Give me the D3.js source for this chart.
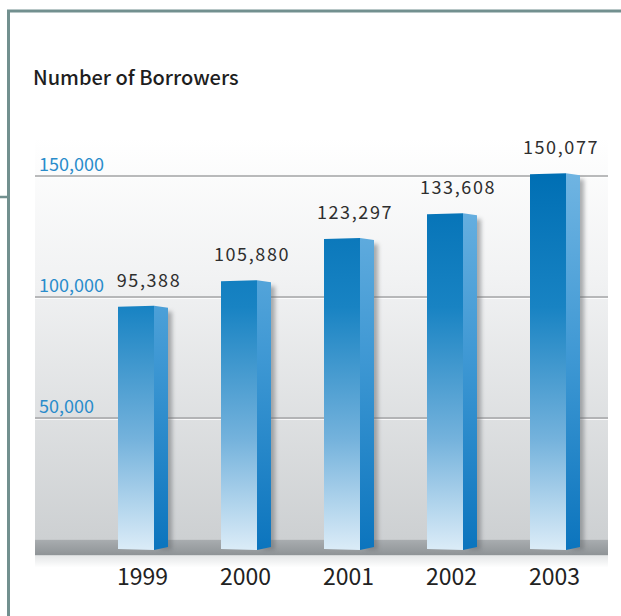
<!DOCTYPE html>
<html>
<head>
<meta charset="utf-8">
<script src="https://cdn.jsdelivr.net/npm/d3@7"></script>
<style>
  html, body { margin: 0; padding: 0; background: #fff; }
  svg { display: block; }
</style>
</head>
<body>
<svg id="chart" width="621" height="616"></svg>
<script>
// Number of borrowers per year
const years = ["1999", "2000", "2001", "2002", "2003"];
const borrowers = [95388, 105880, 123297, 133608, 150077];
const tickValues = [50000, 100000, 150000];
const title = "Number of Borrowers";

const W = 621, H = 616;
const svg = d3.select("#chart");
const defs = svg.append("defs");
const fontFam = "'Noto Sans CJK KR', 'Noto Sans', sans-serif";

// Scales
const x = d3.scalePoint().domain(years).range([142, 554]);
const y = d3.scaleLinear().domain([0, 150000]).range([538.5, 175.5]);
const fmt = d3.format(",");

const plotL = 35, plotR = 608, plotT = 138;
const floorTop = y(0) + 1, floorBot = floorTop + 16;

// Gradients
const bgGrad = defs.append("linearGradient").attr("id", "bg").attr("x1", 0).attr("y1", 0).attr("x2", 0).attr("y2", 1);
bgGrad.append("stop").attr("offset", 0).attr("stop-color", "#ffffff");
bgGrad.append("stop").attr("offset", 0.35).attr("stop-color", "#f1f2f3");
bgGrad.append("stop").attr("offset", 1).attr("stop-color", "#cdd0d2");

const floorGrad = defs.append("linearGradient").attr("id", "floor").attr("x1", 0).attr("y1", 0).attr("x2", 0).attr("y2", 1);
floorGrad.append("stop").attr("offset", 0).attr("stop-color", "#a9adb0");
floorGrad.append("stop").attr("offset", 1).attr("stop-color", "#8e9396");

const fadeGrad = defs.append("linearGradient").attr("id", "fade").attr("x1", 0).attr("y1", 0).attr("x2", 0).attr("y2", 1);
fadeGrad.append("stop").attr("offset", 0).attr("stop-color", "#e4e6e7");
fadeGrad.append("stop").attr("offset", 1).attr("stop-color", "#ffffff");

const frontGrad = defs.append("linearGradient").attr("id", "front").attr("x1", 0).attr("x2", 0)
  .attr("gradientUnits", "userSpaceOnUse").attr("y1", 175).attr("y2", 552);
frontGrad.append("stop").attr("offset", 0).attr("stop-color", "#006fb4");
frontGrad.append("stop").attr("offset", 0.35).attr("stop-color", "#1883c3");
frontGrad.append("stop").attr("offset", 0.7).attr("stop-color", "#74b2dc");
frontGrad.append("stop").attr("offset", 1).attr("stop-color", "#ddedf8");

const sideGrad = defs.append("linearGradient").attr("id", "side").attr("x1", 0).attr("x2", 0)
  .attr("gradientUnits", "userSpaceOnUse").attr("y1", 175).attr("y2", 552);
sideGrad.append("stop").attr("offset", 0).attr("stop-color", "#6fb4e2");
sideGrad.append("stop").attr("offset", 0.5).attr("stop-color", "#3d97d3");
sideGrad.append("stop").attr("offset", 1).attr("stop-color", "#0b74bd");

const shadow = defs.append("filter").attr("id", "shadow").attr("x", -0.5).attr("y", -0.1).attr("width", 2).attr("height", 1.2);
shadow.append("feGaussianBlur").attr("stdDeviation", 2.2);

// Outer frame
svg.append("path")
  .attr("d", `M${W},11 H8.5 V${H}`)
  .attr("fill", "none").attr("stroke", "#72908f").attr("stroke-width", 3);
svg.append("line")
  .attr("x1", 0).attr("x2", 8).attr("y1", 197).attr("y2", 197)
  .attr("stroke", "#72908f").attr("stroke-width", 2.5);

// Title
svg.append("text")
  .attr("x", 33).attr("y", 85)
  .attr("font-family", fontFam).attr("font-size", 20).attr("font-weight", 500)
  .attr("fill", "#1e1e1e")
  .text(title);

// Plot background
svg.append("rect")
  .attr("x", plotL).attr("y", plotT).attr("width", plotR - plotL).attr("height", floorTop - plotT)
  .attr("fill", "url(#bg)");
svg.append("rect")
  .attr("x", plotL).attr("y", floorTop).attr("width", plotR - plotL).attr("height", floorBot - floorTop)
  .attr("fill", "url(#floor)");
svg.append("rect")
  .attr("x", plotL).attr("y", floorBot).attr("width", plotR - plotL).attr("height", 12)
  .attr("fill", "url(#fade)");

// Gridlines and y labels
const grid = svg.append("g");
grid.selectAll("line.grid").data(tickValues).join("line")
  .attr("x1", plotL).attr("x2", plotR)
  .attr("y1", d => y(d) + 0.5).attr("y2", d => y(d) + 0.5)
  .attr("stroke", "#a3a5a6").attr("stroke-width", 1.5);
grid.selectAll("line.hl").data(tickValues).join("line")
  .attr("x1", plotL).attr("x2", plotR)
  .attr("y1", d => y(d) + 2).attr("y2", d => y(d) + 2)
  .attr("stroke", "#ffffff").attr("stroke-width", 1).attr("opacity", 0.8);

const yAxis = d3.axisLeft(y).tickValues(tickValues).tickFormat(fmt).tickSize(0);
const yg = svg.append("g").attr("transform", `translate(${plotL + 4},0)`).call(yAxis);
yg.select(".domain").remove();
yg.selectAll("text")
  .attr("text-anchor", "start").attr("x", 0).attr("dy", "-0.3em")
  .attr("font-family", fontFam).attr("font-size", 18).attr("fill", "#2a8ccb");

// Bars
const frontL = -24, frontR = 12, sideR = 26;
const barBottom = 550;
const bars = svg.append("g").selectAll("g").data(years.map((yr, i) => ({ yr, v: borrowers[i] }))).join("g");

bars.append("rect")
  .attr("x", d => x(d.yr) + sideR - 8).attr("y", d => y(d.v) + 4)
  .attr("width", 12).attr("height", d => barBottom - y(d.v) - 4)
  .attr("fill", "#6a6e72").attr("opacity", 0.55).attr("filter", "url(#shadow)");

bars.append("path")
  .attr("d", d => {
    const c = x(d.yr), t = y(d.v);
    return `M${c + frontR},${t - 2} L${c + sideR},${t} L${c + sideR},${barBottom - 3} L${c + frontR},${barBottom} Z`;
  })
  .attr("fill", "url(#side)");

bars.append("path")
  .attr("d", d => {
    const c = x(d.yr), t = y(d.v);
    return `M${c + frontL},${t - 1} L${c + frontR},${t - 2} L${c + frontR},${barBottom} L${c + frontL},${barBottom - 1} Z`;
  })
  .attr("fill", "url(#front)");

// Value labels
bars.append("text")
  .attr("x", d => x(d.yr) + 7).attr("y", d => y(d.v) - 21)
  .attr("text-anchor", "middle")
  .attr("font-family", fontFam).attr("font-size", 18).attr("letter-spacing", 1.6)
  .attr("fill", "#2e2e2e")
  .text(d => fmt(d.v));

// Year labels
const xAxis = d3.axisBottom(x).tickSize(0);
const xg = svg.append("g").attr("transform", "translate(0,565)").call(xAxis);
xg.select(".domain").remove();
xg.selectAll("text")
  .attr("dy", "0.75em")
  .attr("font-family", fontFam).attr("font-size", 23).attr("fill", "#222");
</script>
</body>
</html>
